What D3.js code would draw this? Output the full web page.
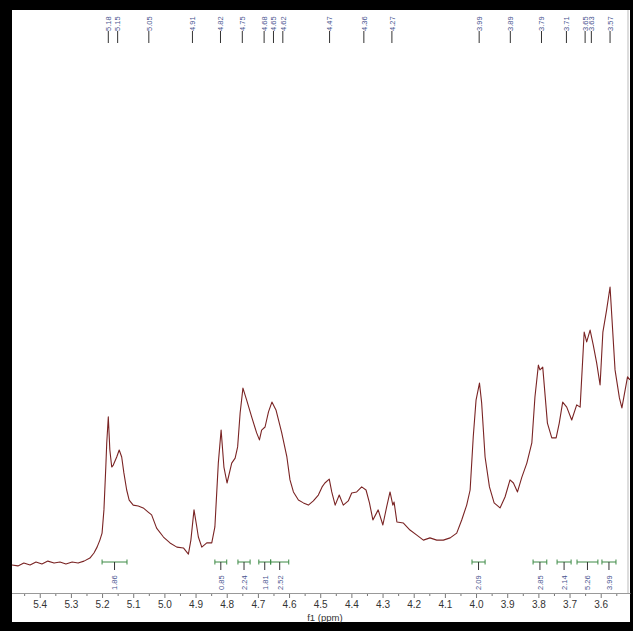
<!DOCTYPE html>
<html><head><meta charset="utf-8">
<script src="https://cdn.jsdelivr.net/npm/d3@7"></script>
<style>html,body{margin:0;padding:0;background:#000;}svg{display:block;}</style>
</head><body>
<svg id="c" width="633" height="631"></svg>
<script>
// spectrum trace (ppm, relative intensity)
const shifts = [5.489,5.470,5.451,5.431,5.412,5.393,5.374,5.354,5.335,5.316,5.296,5.277,5.258,5.239,5.226,5.216,5.207,5.200,5.194,5.188,5.185,5.180,5.175,5.169,5.164,5.153,5.145,5.137,5.130,5.121,5.113,5.100,5.084,5.068,5.052,5.041,5.025,5.003,4.982,4.960,4.939,4.923,4.915,4.905,4.897,4.891,4.880,4.864,4.848,4.838,4.827,4.818,4.809,4.799,4.784,4.773,4.765,4.757,4.748,4.736,4.720,4.704,4.695,4.688,4.677,4.666,4.655,4.642,4.624,4.607,4.597,4.586,4.570,4.554,4.538,4.522,4.506,4.494,4.485,4.471,4.463,4.452,4.439,4.426,4.410,4.399,4.383,4.367,4.353,4.342,4.331,4.314,4.299,4.287,4.276,4.267,4.263,4.254,4.233,4.212,4.190,4.169,4.148,4.126,4.105,4.083,4.062,4.046,4.030,4.019,4.009,4.000,3.989,3.982,3.971,3.957,3.942,3.923,3.907,3.891,3.880,3.867,3.853,3.837,3.821,3.811,3.800,3.795,3.786,3.771,3.757,3.743,3.733,3.722,3.709,3.693,3.677,3.666,3.653,3.645,3.634,3.624,3.613,3.602,3.593,3.581,3.570,3.554,3.540,3.532,3.514,3.506];
const intensities = [0.7,0.4,1.4,0.7,1.8,1.1,2.1,1.4,1.8,1.1,1.8,1.4,2.1,3.2,5.0,7.1,9.6,12.1,20.4,35.7,44.3,53.6,41.8,35.7,36.4,39.3,41.8,39.3,33.6,27.5,23.9,22.1,21.8,21.1,19.6,18.6,13.9,10.7,8.6,7.1,6.8,4.6,9.6,20.4,15.0,10.7,7.1,8.6,8.6,14.3,37.1,48.9,35.7,30.0,37.1,38.9,42.9,55.0,63.9,59.6,53.6,47.9,45.4,48.9,50.0,55.4,58.9,56.1,48.2,39.3,31.1,26.8,23.9,22.9,22.1,23.6,25.7,28.6,30.0,31.4,26.8,22.1,25.7,22.1,23.6,26.4,26.8,28.6,27.5,22.9,16.8,20.4,15.0,21.4,26.8,22.1,23.2,16.1,15.7,13.2,11.4,9.6,10.4,9.6,9.6,10.4,12.1,16.8,22.1,27.5,46.4,59.6,65.7,58.6,39.3,28.6,22.9,21.1,25.0,31.1,30.0,26.8,32.1,37.1,44.3,60.7,72.1,70.4,71.4,51.4,46.1,46.1,51.4,58.9,57.1,52.5,57.9,57.1,83.9,80.4,84.6,79.3,72.9,65.0,83.9,91.8,100,70.4,60.4,56.8,67.9,66.8];

// peak picking labels
const peakLabels = ["5.18","5.15","5.05","4.91","4.82","4.75","4.68","4.65","4.62","4.47","4.36","4.27","3.99","3.89","3.79","3.71","3.65","3.63","3.57"];

// integration regions
const intFrom = [5.200,4.838,4.764,4.697,4.659,4.013,3.817,3.740,3.676,3.596];
const intTo   = [5.120,4.800,4.725,4.659,4.601,3.971,3.773,3.695,3.609,3.551];
const intLabels = ["1.86","0.85","2.24","1.81","2.52","2.09","2.85","2.14","5.26","3.99"];

// axis ticks
const majorTicks = [5.4,5.3,5.2,5.1,5.0,4.9,4.8,4.7,4.6,4.5,4.4,4.3,4.2,4.1,4.0,3.9,3.8,3.7,3.6];
const minorTicks = [5.45,5.35,5.25,5.15,5.05,4.95,4.85,4.75,4.65,4.55,4.45,4.35,4.25,4.15,4.05,3.95,3.85,3.75,3.65,3.55];
const axisTitle = "f1 (ppm)";

const svg = d3.select("#c");
svg.append("rect").attr("x",0).attr("y",0).attr("width",633).attr("height",631).attr("fill","#000");
svg.append("rect").attr("x",12).attr("y",10).attr("width",618).attr("height",612).attr("fill","#fff");
svg.append("line").attr("x1",628).attr("x2",628).attr("y1",10).attr("y2",593).attr("stroke","#bbb").attr("stroke-width",1);

const x = d3.scaleLinear().domain([5.489,3.506]).range([12,630]);
const y = d3.scaleLinear().domain([0,100]).range([567,287]);

// spectrum
const pts = shifts.map((s,i)=>[s,intensities[i]]);
svg.append("path").datum(pts)
  .attr("d", d3.line().x(d=>x(d[0])).y(d=>y(d[1])))
  .attr("fill","none").attr("stroke","#7a2424").attr("stroke-width",1.1).attr("stroke-linejoin","round");

// axis
const ax = svg.append("g").attr("transform","translate(0,593)");
ax.call(d3.axisBottom(x).tickValues(majorTicks).tickSize(5).tickSizeOuter(0).tickFormat(d3.format(".1f")));
ax.select(".domain").attr("stroke","#888");
ax.selectAll(".tick line").attr("stroke","#777");
ax.selectAll(".tick text").attr("font-family","Liberation Sans, Arial, sans-serif").attr("font-size",10).attr("fill","#333").attr("dy","0.7em");
const axm = svg.append("g").attr("transform","translate(0,593)");
axm.call(d3.axisBottom(x).tickValues(minorTicks).tickSize(3).tickFormat(""));
axm.select(".domain").remove();
axm.selectAll(".tick line").attr("stroke","#777");
svg.append("line").attr("x1",12).attr("x2",630).attr("y1",593.5).attr("y2",593.5).attr("stroke","#999");
svg.append("text").attr("x",x(4.485)).attr("y",621).attr("text-anchor","middle")
  .attr("font-family","Liberation Sans, Arial, sans-serif").attr("font-size",9.5).attr("fill","#333").text(axisTitle);

// peak labels
const pk = svg.append("g");
peakLabels.forEach(l=>{
  const px = x(+l);
  pk.append("line").attr("x1",px).attr("x2",px).attr("y1",31).attr("y2",43).attr("stroke","#333").attr("stroke-width",1);
  pk.append("text").attr("transform",`translate(${px+2.8},31) rotate(-90)`)
    .attr("font-family","Liberation Sans, Arial, sans-serif").attr("font-size",7.5).attr("fill","#4a5590").text(l);
});

// integrals
const ig = svg.append("g");
intLabels.forEach((l,i)=>{
  const a = x(intFrom[i]), b = x(intTo[i]), m = (a+b)/2;
  ig.append("line").attr("x1",a).attr("x2",b).attr("y1",562).attr("y2",562).attr("stroke","#3d8a45").attr("stroke-width",1);
  ig.append("line").attr("x1",a).attr("x2",a).attr("y1",559.5).attr("y2",564.5).attr("stroke","#3d8a45");
  ig.append("line").attr("x1",b).attr("x2",b).attr("y1",559.5).attr("y2",564.5).attr("stroke","#3d8a45");
  ig.append("line").attr("x1",m).attr("x2",m).attr("y1",562).attr("y2",570).attr("stroke","#333");
  ig.append("text").attr("transform",`translate(${m+2.8},590) rotate(-90)`)
    .attr("font-family","Liberation Sans, Arial, sans-serif").attr("font-size",7.5).attr("fill","#4a5590").text(l);
});
</script>
</body></html>
